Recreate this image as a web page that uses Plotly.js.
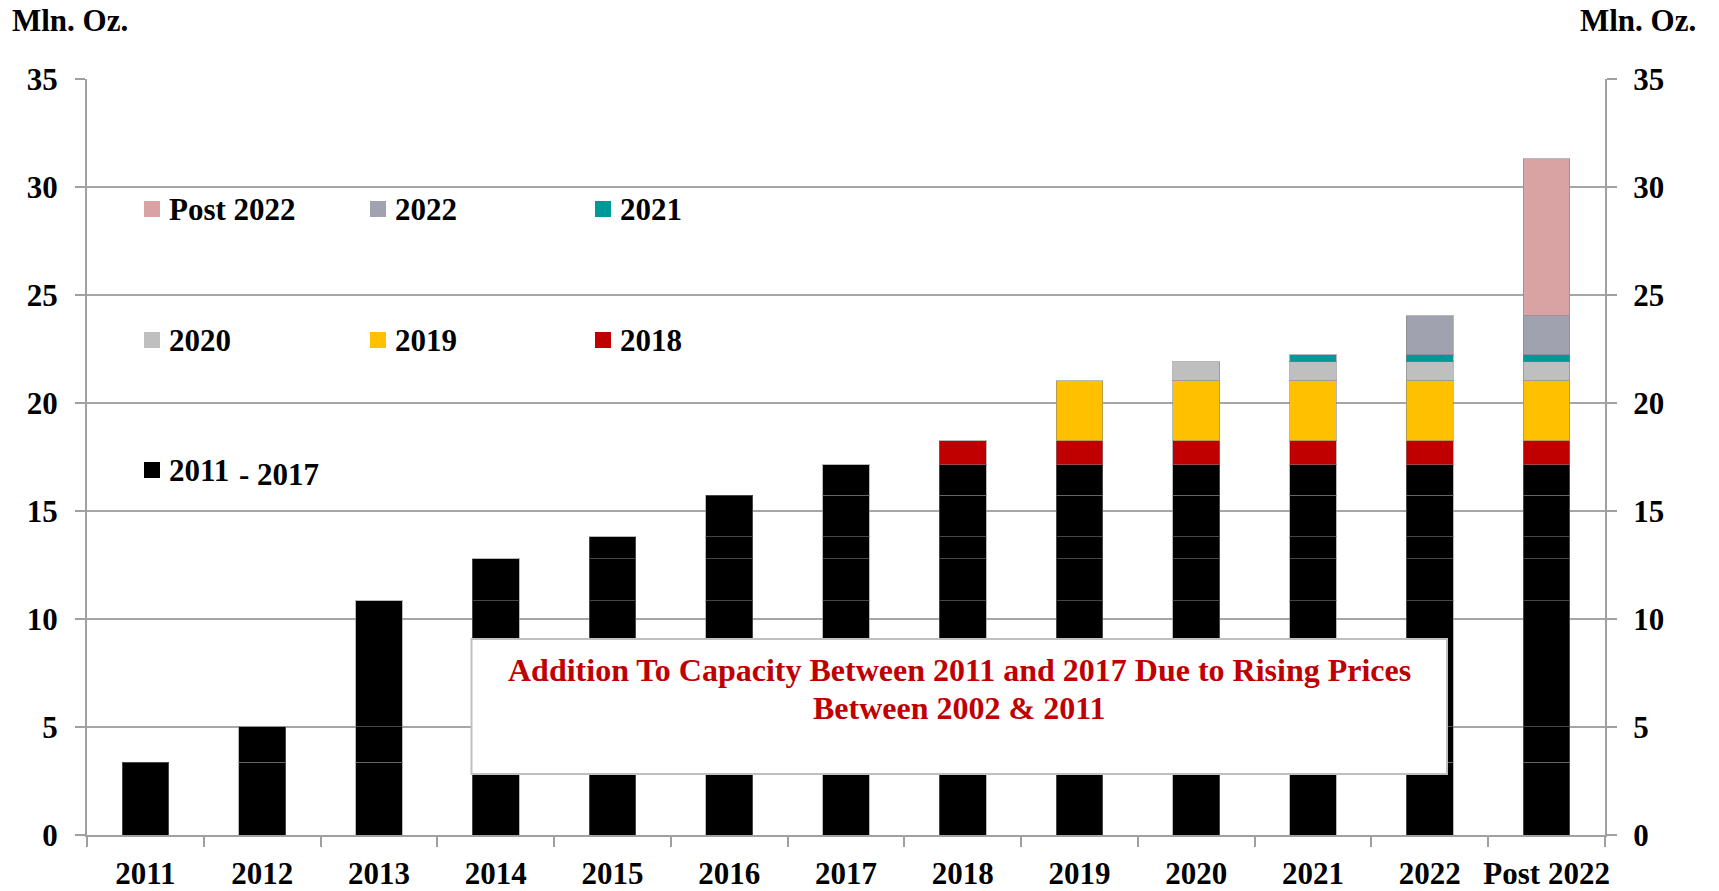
<!DOCTYPE html>
<html>
<head>
<meta charset="utf-8">
<script src="https://cdn.plot.ly/plotly-3.0.1.min.js"></script>
<style>
  html, body { margin: 0; padding: 0; background: #ffffff; }
  #chart { width: 1719px; height: 891px; }
</style>
</head>
<body>
<div id="chart"></div>
<script>
// ---- Data ----
const categories = ['2011','2012','2013','2014','2015','2016','2017','2018','2019','2020','2021','2022','Post 2022'];
// capacity added in each period (Mln. Oz.)
const additions = [3.37, 1.65, 5.82, 1.95, 1.02, 1.93, 1.41, 1.11, 2.76, 0.88, 0.33, 1.82, 7.26];
const seriesNames = ['2011 - 2017','2011 - 2017','2011 - 2017','2011 - 2017','2011 - 2017','2011 - 2017','2011 - 2017','2018','2019','2020','2021','2022','Post 2022'];
const yTicks = [0, 5, 10, 15, 20, 25, 30, 35];
const legendRows = [['Post 2022', '2022', '2021'], ['2020', '2019', '2018'], ['2011 - 2017']];
const noteLines = ['Addition To Capacity Between 2011 and 2017 Due to Rising Prices', 'Between 2002 & 2011'];
const unitLabel = 'Mln. Oz.';

// ---- Styles ----
const colorOf = {
  '2011 - 2017': '#000000',
  '2018': '#c00000',
  '2019': '#ffc000',
  '2020': '#bfbfbf',
  '2021': '#009999',
  '2022': '#a0a2b0',
  'Post 2022': '#d9a3a3'
};
const FONT = 'Liberation Serif, Times New Roman, serif';
const W = 1719, H = 891;
const M = {l: 87, r: 114, t: 79, b: 56};
const PW = W - M.l - M.r, PH = H - M.t - M.b;
const px2x = px => (px - M.l) / PW;
const py2y = py => (H - M.b - py) / PH;

// each period's addition is a segment present in its own and every later column
const traces = additions.map((v, i) => ({
  type: 'bar',
  name: seriesNames[i],
  x: categories,
  y: categories.map((c, j) => (j >= i ? v : null)),
  marker: { color: colorOf[seriesNames[i]], line: { color: 'rgba(128,128,128,0.55)', width: 1 } },
  showlegend: false,
  hoverinfo: 'x+y+name'
}));
// carrier so the right-hand axis is drawn (no visible marks)
traces.push({
  type: 'scatter', mode: 'none', x: [categories[0]], y: [null],
  xaxis: 'x', yaxis: 'y2', showlegend: false, hoverinfo: 'skip'
});

const shapes = [];
const annotations = [];

// custom legend (3 x 3 grid)
const colX = [144, 370, 595];
const rowY = [209, 340, 470];
legendRows.forEach((row, r) => {
  row.forEach((name, c) => {
    shapes.push({
      type: 'rect', xref: 'paper', yref: 'paper',
      xsizemode: 'pixel', ysizemode: 'pixel',
      xanchor: px2x(colX[c]), yanchor: py2y(rowY[r]),
      x0: 0, x1: 16, y0: -8, y1: 8,
      fillcolor: colorOf[name], line: { width: 0 }, layer: 'above'
    });
    const fnt = { family: FONT, size: 31, color: '#000000', weight: 'bold' };
    if (name === '2011 - 2017') {
      const parts = name.split(' - ');
      annotations.push({ xref: 'paper', yref: 'paper', x: px2x(colX[c] + 23), y: py2y(rowY[r]), xanchor: 'left', yanchor: 'middle', text: parts[0], showarrow: false, font: fnt });
      annotations.push({ xref: 'paper', yref: 'paper', x: px2x(colX[c] + 93), y: py2y(rowY[r] + 4), xanchor: 'left', yanchor: 'middle', text: '- ' + parts[1], showarrow: false, font: fnt });
    } else {
      annotations.push({ xref: 'paper', yref: 'paper', x: px2x(colX[c] + 23), y: py2y(rowY[r]), xanchor: 'left', yanchor: 'middle', text: name, showarrow: false, font: fnt });
    }
  });
});

// note box
shapes.push({
  type: 'rect', xref: 'paper', yref: 'paper',
  x0: px2x(471.5), x1: px2x(1447), y0: py2y(774), y1: py2y(639),
  fillcolor: '#ffffff', line: { color: '#bfbfbf', width: 2 }, layer: 'above'
});
const noteY = [670, 708];
noteLines.forEach((t, i) => {
  annotations.push({ xref: 'paper', yref: 'paper', x: px2x(959), y: py2y(noteY[i]), xanchor: 'center', yanchor: 'middle', text: t, showarrow: false, font: { family: FONT, size: 32, color: '#c00000', weight: 'bold' } });
});

// unit labels
annotations.push({ xref: 'paper', yref: 'paper', x: px2x(10), y: py2y(21), xanchor: 'left', yanchor: 'middle', text: unitLabel, showarrow: false, font: { family: FONT, size: 31, color: '#000000', weight: 'bold' } });
annotations.push({ xref: 'paper', yref: 'paper', x: px2x(1698), y: py2y(21), xanchor: 'right', yanchor: 'middle', text: unitLabel, showarrow: false, font: { family: FONT, size: 31, color: '#000000', weight: 'bold' } });

const yAxisCommon = {
  range: [0, 35],
  tickvals: yTicks,
  ticktext: yTicks.map(String),
  ticks: 'outside', ticklen: 10, tickwidth: 2, tickcolor: '#a0a0a0',
  showline: true, linecolor: '#a0a0a0', linewidth: 2,
  zeroline: false,
  tickfont: { family: FONT, size: 31, color: '#000000', weight: 'bold' },
  fixedrange: true
};

const layout = {
  width: W, height: H,
  margin: M,
  paper_bgcolor: '#ffffff', plot_bgcolor: '#ffffff',
  barmode: 'stack',
  bargap: 0.6,
  showlegend: false,
  xaxis: {
    type: 'category',
    range: [-0.5, categories.length - 0.5],
    tickson: 'boundaries',
    tickangle: 0,
    ticks: 'outside', ticklen: 10, tickwidth: 2, tickcolor: '#a0a0a0',
    showline: true, linecolor: '#a0a0a0', linewidth: 2,
    showgrid: false, zeroline: false,
    tickfont: { family: FONT, size: 31, color: '#000000', weight: 'bold' },
    ticklabelstandoff: 10,
    automargin: false,
    fixedrange: true
  },
  yaxis: Object.assign({}, yAxisCommon, {
    side: 'left',
    showgrid: true, gridcolor: '#a6a6a6', gridwidth: 2,
    ticklabelstandoff: 11,
    automargin: false
  }),
  yaxis2: Object.assign({}, yAxisCommon, {
    side: 'right', overlaying: 'y', anchor: 'x',
    showgrid: false,
    ticklabelstandoff: 10,
    automargin: false
  }),
  shapes: shapes,
  annotations: annotations
};

Plotly.newPlot('chart', traces, layout, { displayModeBar: false, staticPlot: true });
</script>
</body>
</html>
